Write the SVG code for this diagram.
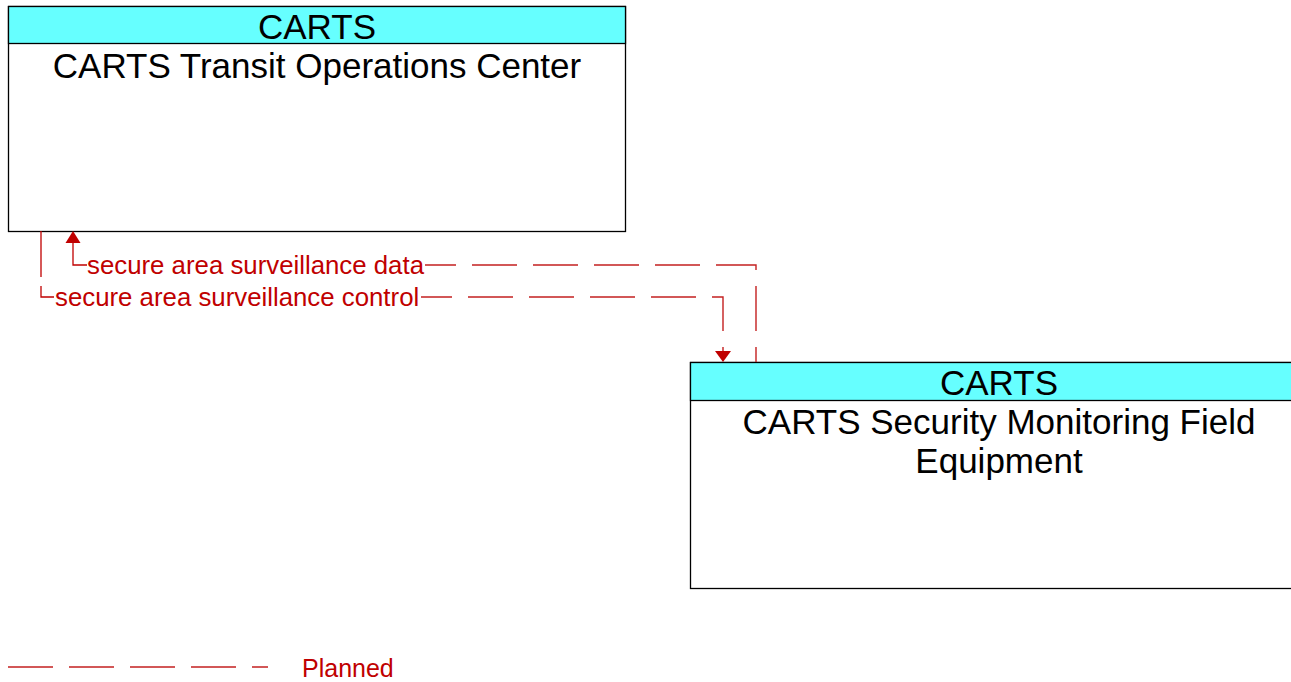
<svg xmlns="http://www.w3.org/2000/svg" width="1291" height="682" viewBox="0 0 1291 682">
<style>
.box{fill:#fff;stroke:#000;stroke-width:1.3}
.hdr{fill:#66ffff;stroke:#000;stroke-width:1.3}
.nt{font-family:"Liberation Sans",Arial,sans-serif;font-size:35px;fill:#000;text-anchor:middle}
.lbl{font-family:"Liberation Sans",Arial,sans-serif;font-size:25.8px;fill:#c00000}
.dash{fill:none;stroke:#c42020;stroke-width:1.4;stroke-dasharray:45 16}
.solid{fill:none;stroke:#c00000;stroke-width:1.3}
.arr{fill:#c00000}
</style>
<g id="node-transit-ops">
<rect class="box" x="8.5" y="6.5" width="617" height="225"/>
<rect class="hdr" x="8.5" y="6.5" width="617" height="37"/>
<text class="nt" x="317" y="39">CARTS</text>
<text class="nt" x="317" y="78">CARTS Transit Operations Center</text>
</g>
<g id="node-security-field">
<rect class="box" x="690.5" y="362.5" width="617" height="226"/>
<rect class="hdr" x="690.5" y="362.5" width="617" height="38"/>
<text class="nt" x="999" y="395">CARTS</text>
<text class="nt" x="999" y="434">CARTS Security Monitoring Field</text>
<text class="nt" x="999" y="473">Equipment</text>
</g>
<g id="connectors">
<path class="dash" style="stroke-dashoffset:30" d="M756,362 V265 H425"/>
<path class="solid" d="M87,265 H73 V242"/>
<polygon class="arr" points="73,231 65.5,243 80.5,243"/>
<text class="lbl" x="87" y="274">secure area surveillance data</text>
<path class="solid" d="M41,231 V277 M41,286 V297 H54"/>
<text class="lbl" x="55" y="306">secure area surveillance control</text>
<path class="dash" style="stroke-dashoffset:14" d="M421,297 H723 V351"/>
<polygon class="arr" points="723,362 715,351 731,351"/>
</g>
<g id="legend">
<path class="dash" d="M8,667 H268"/>
<text class="lbl" x="302" y="677" style="font-size:25px">Planned</text>
</g>
</svg>
